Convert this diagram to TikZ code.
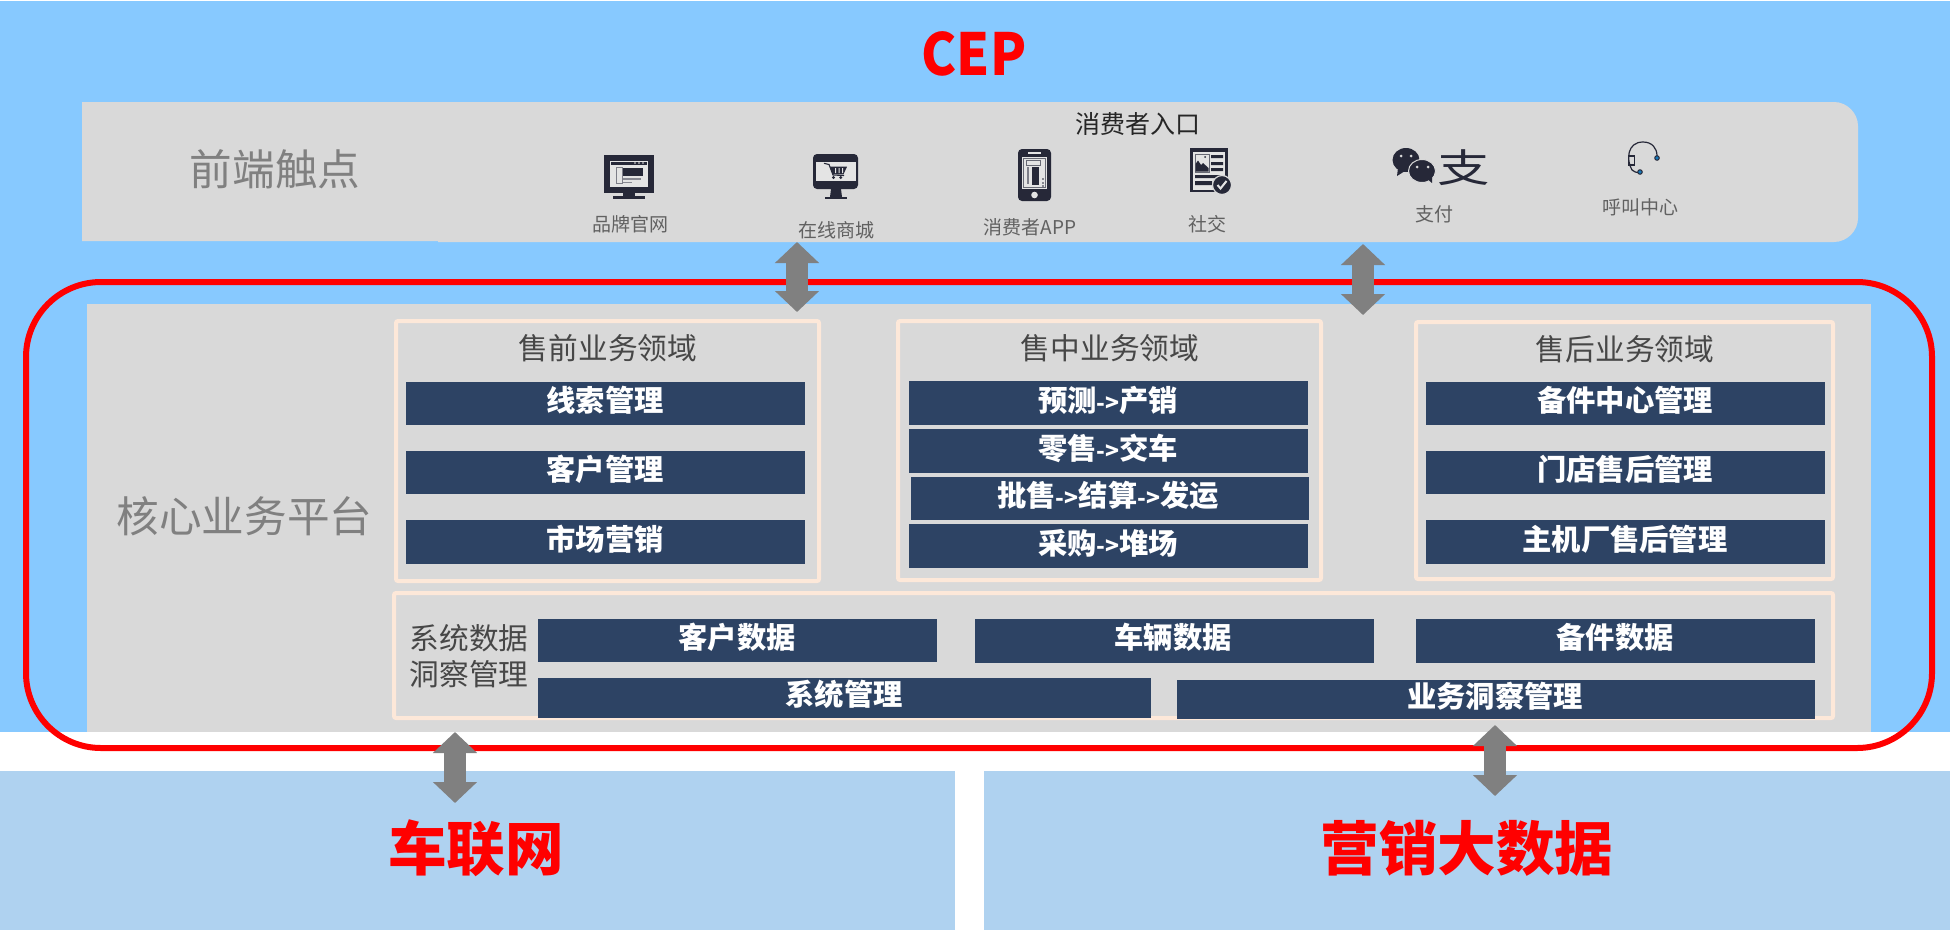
\documentclass[tikz,border=0pt]{standalone}
\usepackage{fontspec}
\setmainfont{Noto Sans CJK SC}
\usetikzlibrary{arrows.meta}
\definecolor{skybg}{HTML}{87C9FF}
\definecolor{panelbg}{HTML}{AFD2F0}
\definecolor{coregray}{HTML}{D9D9D9}
\definecolor{peach}{HTML}{FDE8D9}
\definecolor{navy}{HTML}{2D4364}
\definecolor{arrowgray}{HTML}{808080}
\definecolor{icondark}{HTML}{262838}
\definecolor{iconlight}{HTML}{E4E4E4}
\definecolor{iconblue}{HTML}{1878B8}
\newcommand{\fs}[1]{\fontsize{#1}{#1}\selectfont}
\newcommand{\flow}{{\fs{23}->}}
\tikzset{
  plate/.style={fill=coregray,draw=none},
  area/.style={draw=peach,line width=4pt,rounded corners=2pt,fill=none},
  navybar/.style={fill=navy,draw=none,inner sep=0pt,outer sep=0pt},
  bartext/.style={text=white,font=\fs{29.3}\bfseries,inner sep=0pt},
  areatitle/.style={text=black!72,font=\fs{29.7},inner sep=0pt},
  bigtitle/.style={text=arrowgray,font=\fs{42.6},inner sep=0pt},
  redtitle/.style={text=red,font=\fs{58.6}\bfseries,inner sep=0pt},
  entry/.style={text=black!62,font=\fs{19},inner sep=0pt},
  ink/.style={fill=icondark,draw=none},
  inklight/.style={fill=iconlight,draw=none},
  twoway/.style={draw=arrowgray,line width=22pt,arrows={Triangle[width=43pt,length=21pt]-Triangle[width=43pt,length=21pt]}},
}
% name, x1, y1, x2, y2, text x, text y, text
\newcommand{\navyitem}[8]{%
  \node[navybar,minimum width={(#4-#2)*1pt},minimum height={(#5-#3)*1pt}] (#1) at ({(#2+#4)/2},{(#3+#5)/2}) {};
  \node[bartext] (#1t) at (#6,#7) {#8};
}
\begin{document}
\begin{tikzpicture}[x=1pt,y=-1pt]
\useasboundingbox (0,0) rectangle (1950,930);
% backgrounds
\fill[white] (0,0) rectangle (1950,930);
\fill[skybg] (0,1) rectangle (1950,732);
\fill[panelbg] (0,771) rectangle (955,930);
\fill[panelbg] (984,771) rectangle (1950,930);
% front plate
\fill[plate] (82,102) -- (1834,102) .. controls (1847,102) and (1858,113) .. (1858,126) -- (1858,218) .. controls (1858,231) and (1847,242) .. (1834,242) -- (438,242) -- (438,241) -- (82,241) -- cycle;
% core plate
\fill[plate] (87,304) rectangle (1871,732);
% titles
\node[text=red,font=\fs{58}\bfseries,inner sep=0pt] (cep) at (974,54) {\scalebox{.91}[1]{CEP}};
\node[bigtitle] (fronttitle) at (275,169) {前端触点};
\node[bigtitle] (coretitle) at (244.5,516) {核心业务平台};
\node[text=black!85,font=\fs{25},inner sep=0pt] (entrytitle) at (1138,124) {消费者入口};
% entry labels
\node[entry] (e1) at (630,224) {品牌官网};
\node[entry] (e2) at (836,230) {在线商城};
\node[entry] (e3) at (1030,227) {消费者APP};
\node[entry] (e4) at (1207,224) {社交};
\node[entry] (e5) at (1434,214) {支付};
\node[entry] (e6) at (1640,207) {呼叫中心};
% icon: monitor site
\fill[ink] (604,155) rectangle (654,193);
\fill[ink] (623,193) rectangle (635,196);
\fill[ink] (613,196) rectangle (645,199);
\fill[inklight] (610,161) rectangle (648,187);
\fill[ink] (611,162) rectangle (647,165);
\fill[inklight] (635,163) circle (0.8) (639,163) circle (0.8) (643,163) circle (0.8);
\draw[icondark!60,line width=0.7pt,fill=iconlight] (616,167) rectangle (622,183);
\fill[ink] (623,168) rectangle (643,176);
\fill[icondark!55] (623,178) rectangle (641,180);
\fill[icondark!55] (623,181.5) rectangle (632,183);
% icon: monitor shop
\fill[ink,rounded corners=4pt] (813,154) rectangle (858,189);
\fill[ink] (831,189) -- (841,189) -- (842,197) -- (830,197) -- cycle;
\fill[ink] (825,197) rectangle (847,199);
\fill[iconlight] (816,162) rectangle (856,181);
\draw[icondark,line width=1.1pt] (824,163.3) -- (829,164.5) -- (833,175) -- (844,175.5);
\fill[ink] (830,166.7) -- (847,166.7) -- (843.5,174.3) -- (832.5,174.3) -- cycle;
\fill[iconlight] (835,168) rectangle (836,173) (838.5,168) rectangle (839.5,173) (842,168) rectangle (843,173);
\fill[ink] (833.5,177.5) circle (1.7) (840.7,177.5) circle (1.7);
% icon: phone
\fill[ink,rounded corners=4pt] (1018,149) rectangle (1051,201);
\fill[iconlight] (1028,152) rectangle (1041,154);
\fill[iconlight] (1022,157) rectangle (1047,189);
\draw[icondark!70,line width=0.8pt] (1023.5,158.5) rectangle (1045.5,187.5);
\draw[icondark!70,line width=0.8pt] (1026,160) rectangle (1040,165);
\fill[icondark!60] (1027,167) rectangle (1028.5,184);
\fill[ink] (1032,167) rectangle (1039,185);
\fill[ink] (1043,179) circle (0.9) (1043,183) circle (0.9) (1043,186) circle (0.9);
\fill[iconlight] (1034.5,195) circle (3.3);
% icon: social document
\fill[ink] (1190,148) rectangle (1228,192);
\fill[iconlight] (1193,152) rectangle (1225,190);
\draw[icondark!70,line width=0.8pt,fill=iconlight] (1195,154) rectangle (1209,172);
\fill[ink] (1195.5,171.5) -- (1195.5,164) -- (1198,160.5) -- (1201,165) -- (1203,163) -- (1208.5,168) -- (1208.5,171.5) -- cycle;
\fill[ink] (1205,157) circle (1);
\fill[ink] (1211,155) rectangle (1223,158) (1211,162) rectangle (1223,165) (1211,168) rectangle (1223,171);
\fill[ink] (1195,175) rectangle (1223,178) (1195,181) rectangle (1212,185);
\draw[coregray,line width=1.2pt,fill=icondark] (1222,185) circle (9.5);
\draw[iconlight,line width=2pt] (1217.5,185) -- (1220.5,188.5) -- (1226.5,181);
% icon: wechat
\fill[ink] (1406,160) ellipse[x radius=13.5,y radius=12];
\fill[ink] (1398,168) -- (1397,176) -- (1405,171) -- cycle;
\fill[coregray] (1401,156) circle (1.5) (1411,156) circle (1.5);
\draw[coregray,line width=1pt,fill=icondark] (1422,171) ellipse[x radius=13.5,y radius=11.5];
\fill[ink] (1426,178) -- (1432,183) -- (1432,175) -- cycle;
\fill[coregray] (1417,167) circle (1.5) (1428,167) circle (1.5);
% icon: pay glyph
\node[text=icondark,font=\fs{46},inner sep=0pt] (paysign) at (1464,167.5) {\scalebox{1.14}[.85]{支}};
% icon: headset
\draw[icondark,line width=1.2pt] (1632,170) .. controls (1626,160) and (1627,142) .. (1643,142) .. controls (1652,142) and (1657,148) .. (1657,156);
\draw[icondark,line width=1.2pt] (1632,170) .. controls (1634,172) and (1636,172.5) .. (1640,172.5);
\draw[icondark,line width=1.1pt] (1628.5,156) rectangle (1634.5,165);
\fill[icondark] (1657,158) circle (2.8);
\fill[iconblue] (1657,158) circle (1.8);
\fill[icondark] (1640,172) circle (2.8);
\fill[iconblue] (1640,172) circle (1.8);
% areas
\draw[area] (396,321) rectangle (819,581);
\draw[area] (898,321) rectangle (1321,580);
\draw[area] (1416,322) rectangle (1833,579);
\draw[area] (394,593) rectangle (1833,718);
\node[areatitle] (t1) at (608,348) {售前业务领域};
\node[areatitle] (t2) at (1110,348) {售中业务领域};
\node[areatitle] (t3) at (1625,349) {售后业务领域};
\node[areatitle,align=center,execute at begin node={\baselineskip=36pt}] (t4) at (469,656) {系统数据\\洞察管理};
% bars
\navyitem{a1}{406}{382}{805}{425}{605}{400}{线索管理}
\navyitem{a2}{406}{451}{805}{494}{605}{469}{客户管理}
\navyitem{a3}{406}{520}{805}{564}{605}{539}{市场营销}
\navyitem{b1}{909}{381}{1308}{425}{1108}{400}{预测\flow 产销}
\navyitem{b2}{909}{429}{1308}{473}{1108}{448}{零售\flow 交车}
\navyitem{b3}{911}{477}{1309}{520}{1108}{495}{批售\flow 结算\flow 发运}
\navyitem{b4}{909}{524}{1308}{568}{1108}{543}{采购\flow 堆场}
\navyitem{c1}{1426}{382}{1825}{425}{1625}{400}{备件中心管理}
\navyitem{c2}{1426}{451}{1825}{494}{1625}{469}{门店售后管理}
\navyitem{c3}{1426}{520}{1825}{564}{1625}{539}{主机厂售后管理}
\navyitem{d1}{538}{619}{937}{662}{737}{637}{客户数据}
\navyitem{d2}{975}{619}{1374}{663}{1173}{637}{车辆数据}
\navyitem{d3}{1416}{619}{1815}{663}{1615}{637}{备件数据}
\navyitem{d4}{538}{678}{1151}{718}{844}{694}{系统管理}
\navyitem{d5}{1177}{680}{1815}{719}{1495}{696}{业务洞察管理}
% lower titles
\node[redtitle] (cars) at (476,848) {车联网};
\node[redtitle] (mkt) at (1467,848) {营销大数据};
% red outline
\draw[red,line width=6pt,rounded corners=75pt] (26,282) rectangle (1932,748);
% connectors
\coordinate (u1) at (797,242); \coordinate (l1) at (797,312);
\coordinate (u2) at (1363,244); \coordinate (l2) at (1363,315);
\coordinate (u3) at (455,732); \coordinate (l3) at (455,803);
\coordinate (u4) at (1495,725); \coordinate (l4) at (1495,796);
\draw[twoway] (u1) -- (l1);
\draw[twoway] (u2) -- (l2);
\draw[twoway] (u3) -- (l3);
\draw[twoway] (u4) -- (l4);
\end{tikzpicture}
\end{document}
